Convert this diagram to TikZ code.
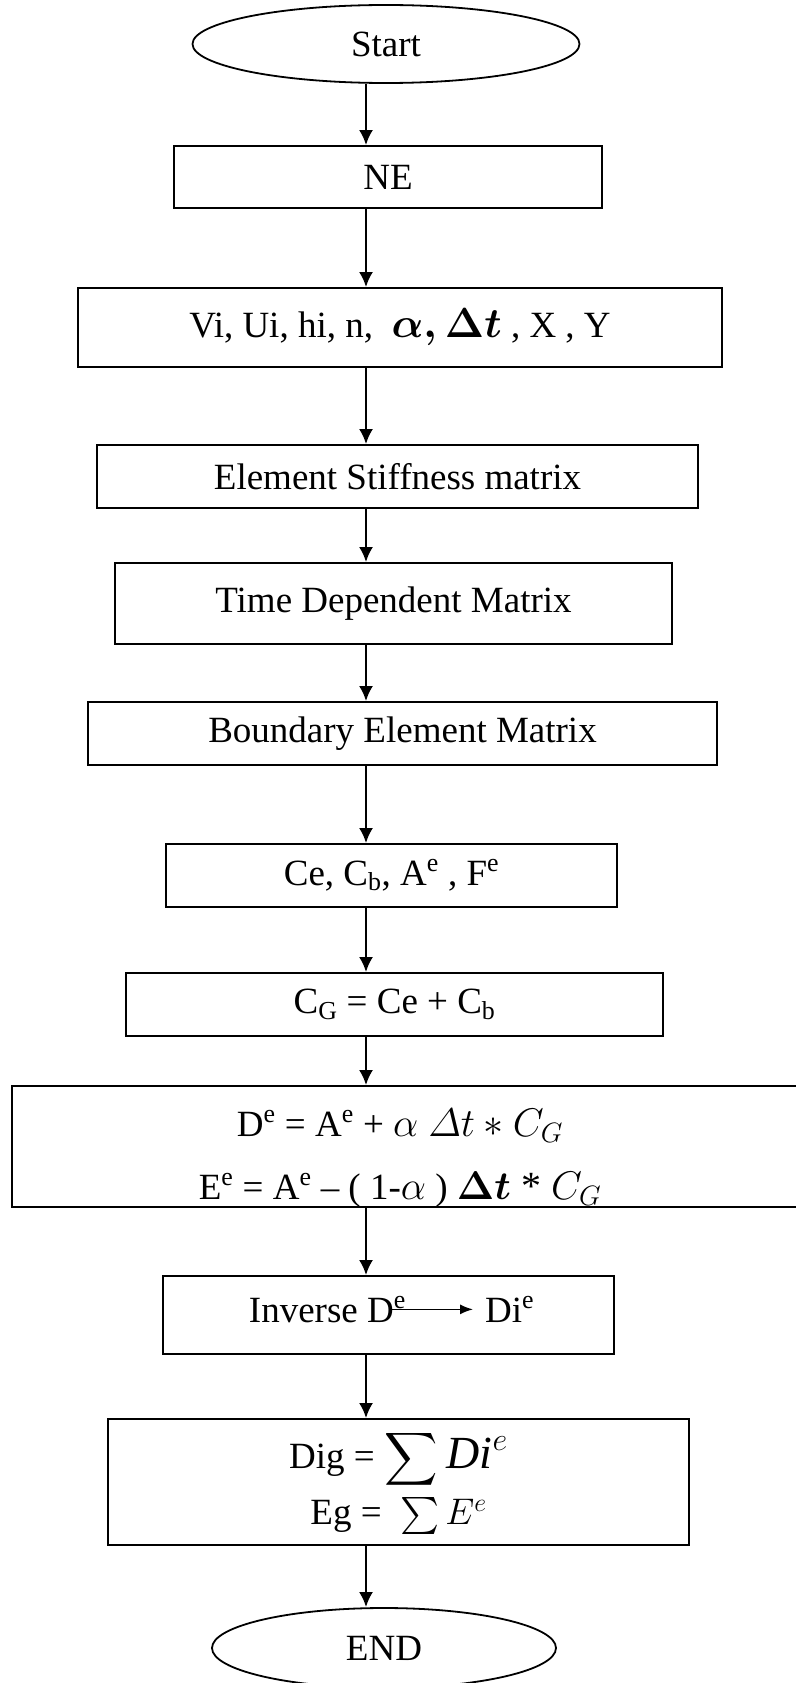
\documentclass[tikz,border=0pt]{standalone}
\usepackage{fix-cm}
\usepackage{amsmath, amssymb}
\usepackage{fontspec}
\setmainfont{Liberation Serif}
\usepackage{tikz}
\usetikzlibrary{shapes.geometric, positioning, arrows.meta}

\begin{document}
\begin{tikzpicture}[>={Latex[length=15pt, width=14pt]}, x=1pt, y=-1pt,
    font=\fontsize{37}{44}\selectfont,
    hop/.style={draw, rectangle, line width=1.8pt, align=center, inner sep=2pt},
    elip/.style={draw, ellipse, line width=1.8pt, inner sep=0pt},
    muiten/.style={->, line width=2.4pt}]
    % Khung ảnh
    \useasboundingbox (0,0) rectangle (795,1683);
    \coordinate (truc) at (366,0);

    % Các khối theo thứ tự từ trên xuống
    \node[elip, minimum width=387pt, minimum height=78pt] (start) at (386,44) {Start};
    \node[hop, minimum width=428pt, minimum height=62pt] (ne) at (388,177) {NE};
    \node[hop, minimum width=644pt, minimum height=79pt] (vi) at (400,327.5)
        {Vi, Ui, hi, n, \ {\fontsize{42}{42}\selectfont$\boldsymbol{\alpha,\Delta t}$} , X , Y};
    \node[hop, minimum width=601pt, minimum height=63pt] (stiff) at (397.5,476.5) {Element Stiffness matrix};
    \node[hop, minimum width=557pt, minimum height=81pt] (time) at (393.5,603.5) {Time Dependent Matrix};
    \node[hop, minimum width=629pt, minimum height=63pt] (bound) at (402.5,733.5) {Boundary Element Matrix};
    \node[hop, minimum width=451pt, minimum height=63pt] (ce) at (391.5,875.5)
        {Ce, C\textsubscript{b}, A\textsuperscript{e} , F\textsuperscript{e}};
    \node[hop, minimum width=537pt, minimum height=63pt] (cg) at (394.5,1004.5)
        {C\textsubscript{G} = Ce + C\textsubscript{b}};
    \node[hop, minimum width=788pt, minimum height=121pt] (de) at (406,1146.5) {};
    \node[hop, minimum width=451pt, minimum height=78pt] (inv) at (388.5,1315) {};
    \node[hop, minimum width=581pt, minimum height=126pt, font=\fontsize{37}{56}\selectfont] (dig) at (398.5,1482)
        {Dig = $\displaystyle\sum$ {\fontsize{46}{46}\selectfont$\mathit{Di}^{e}$}\\
         Eg = \ $\sum E^{e}$};
    \node[elip, minimum width=344pt, minimum height=80pt] (end) at (384,1648) {END};

    % Hai công thức trong khối D, E
    \node[align=center, inner sep=0pt, font=\fontsize{37}{63}\selectfont] (detext) at (400,1158)
        {D\textsuperscript{e} = A\textsuperscript{e} + {\fontsize{40}{40}\selectfont$\alpha\ \varDelta t * C_G$}\\
         E\textsuperscript{e} = A\textsuperscript{e} – ( 1-{\fontsize{40}{40}\selectfont$\alpha$} ) {\fontsize{40}{40}\selectfont$\boldsymbol{\Delta t}$ *\ $C_G$}};

    % Chữ và mũi tên bên trong khối nghịch đảo
    \node[anchor=base east, inner sep=0pt] (invl) at (406,1322) {Inverse D\textsuperscript{e}};
    \node[anchor=base west, inner sep=0pt] (invr) at (485,1322) {Di\textsuperscript{e}};
    \draw[->, line width=1.4pt, >={Latex[length=13pt, width=10pt]}, shorten >=12pt]
        ([xshift=-16pt]invl.east) -- (invr.west |- invl.east);

    % Các mũi tên nối theo trục dọc
    \draw[muiten] (start.south -| truc) -- (ne.north -| truc);
    \draw[muiten] (ne.south -| truc) -- (vi.north -| truc);
    \draw[muiten] (vi.south -| truc) -- (stiff.north -| truc);
    \draw[muiten] (stiff.south -| truc) -- (time.north -| truc);
    \draw[muiten] (time.south -| truc) -- (bound.north -| truc);
    \draw[muiten] (bound.south -| truc) -- (ce.north -| truc);
    \draw[muiten] (ce.south -| truc) -- (cg.north -| truc);
    \draw[muiten] (cg.south -| truc) -- (de.north -| truc);
    \draw[muiten] (de.south -| truc) -- (inv.north -| truc);
    \draw[muiten] (inv.south -| truc) -- (dig.north -| truc);
    \draw[muiten] (dig.south -| truc) -- (end.north -| truc);
\end{tikzpicture}
\end{document}
